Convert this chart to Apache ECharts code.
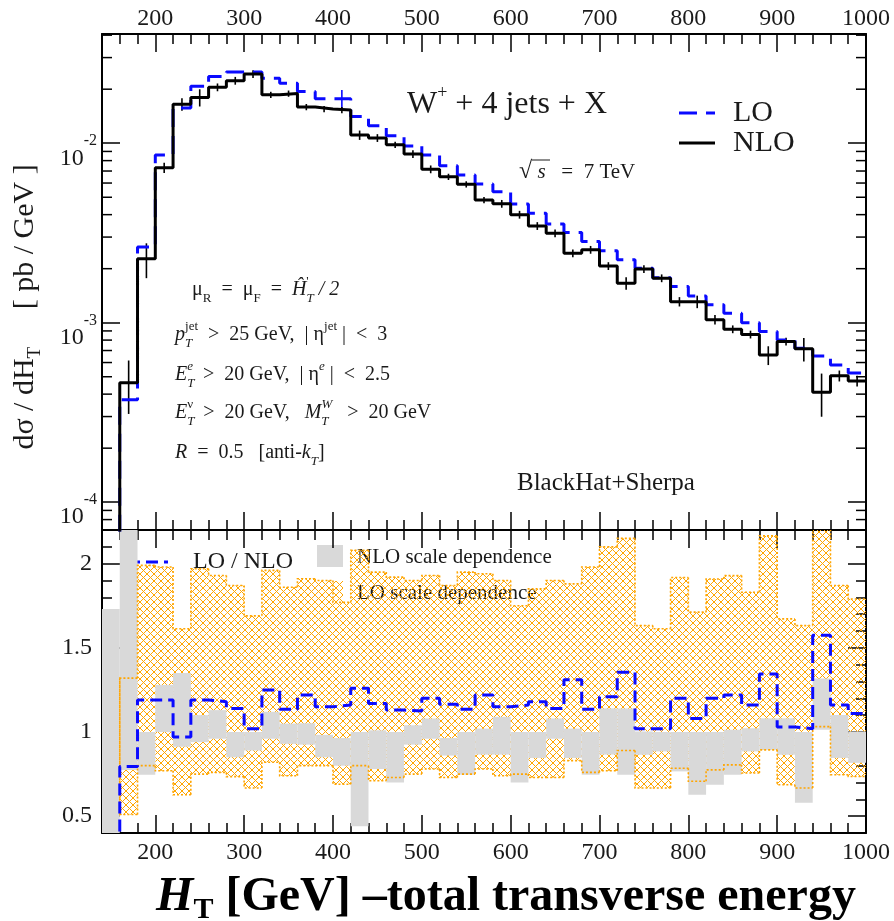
<!DOCTYPE html>
<html>
<head>
<meta charset="utf-8">
<script src="https://cdn.jsdelivr.net/npm/echarts@6/dist/echarts.min.js"></script>
<style>
  html, body { margin: 0; padding: 0; background: #fff; }
  #chart { width: 894px; height: 921px; }
</style>
</head>
<body>
<div id="chart"></div>
<script>
// bins: lower edges, 20 GeV wide
const binLow = [140, 160, 180, 200, 220, 240, 260, 280, 300, 320, 340, 360, 380, 400, 420, 440, 460, 480, 500, 520, 540,
  560, 580, 600, 620, 640, 660, 680, 700, 720, 740, 760, 780, 800, 820, 840, 860, 880, 900, 920, 940, 960, 980]
const binWidth = 20

// d sigma / d H_T [pb/GeV]
const nloValues = [4e-5, 4.63e-4, 2.27e-3, 7.31e-3, 1.65e-2, 1.80e-2, 2.05e-2, 2.23e-2, 2.43e-2, 1.86e-2, 1.89e-2,
  1.59e-2, 1.55e-2, 1.53e-2, 1.11e-2, 1.07e-2, 9.8e-3, 8.7e-3, 7.16e-3, 6.5e-3, 5.9e-3,
  4.83e-3, 4.6e-3, 4.0e-3, 3.46e-3, 3.15e-3, 2.44e-3, 2.55e-3, 2.07e-3, 1.66e-3, 1.99e-3,
  1.77e-3, 1.31e-3, 1.31e-3, 1.04e-3, 9.2e-4, 8.6e-4, 6.6e-4, 7.85e-4, 7.15e-4, 4.1e-4, 5.06e-4, 4.74e-4]
const nloRelErr = [0, 0.33, 0.22, 0.065, 0.08, 0.11, 0.05, 0.05, 0.05, 0.04, 0.04,
  0.04, 0.04, 0.04, 0.06, 0.05, 0.04, 0.05, 0.05, 0.04, 0.04,
  0.04, 0.05, 0.05, 0.05, 0.05, 0.05, 0.05, 0.05, 0.08, 0.05,
  0.05, 0.06, 0.08, 0.06, 0.05, 0.05, 0.12, 0.05, 0.15, 0.27, 0.07, 0.07]
const loValues = [3e-5, 3.72e-4, 2.64e-3, 8.6e-3, 1.57e-2, 2.08e-2, 2.35e-2, 2.49e-2, 2.49e-2, 2.30e-2, 2.16e-2,
  1.94e-2, 1.77e-2, 1.77e-2, 1.41e-2, 1.25e-2, 1.10e-2, 9.66e-3, 8.6e-3, 7.48e-3, 6.66e-3,
  5.93e-3, 5.37e-3, 4.59e-3, 4.07e-3, 3.55e-3, 3.18e-3, 2.83e-3, 2.52e-3, 2.24e-3, 2.01e-3,
  1.78e-3, 1.59e-3, 1.41e-3, 1.26e-3, 1.13e-3, 1.0e-3, 8.92e-4, 8.01e-4, 7.21e-4, 6.53e-4, 5.82e-4, 5.24e-4]
const loRelErr = [0, 0, 0, 0, 0, 0, 0, 0, 0, 0, 0,
  0, 0, 0.12, 0, 0, 0, 0, 0, 0, 0,
  0, 0, 0, 0, 0, 0, 0, 0, 0, 0,
  0, 0, 0, 0, 0, 0, 0, 0, 0, 0, 0, 0]

// lower panel: LO / NLO and scale bands
const ratioValues = [0.3, 0.795, 1.19, 1.19, 0.97, 1.19, 1.18, 1.14, 1.02, 1.25, 1.135,
  1.22, 1.15, 1.16, 1.26, 1.17, 1.13, 1.125, 1.20, 1.165, 1.135,
  1.22, 1.15, 1.16, 1.18, 1.14, 1.31, 1.135, 1.21, 1.355, 1.02,
  1.02, 1.20, 1.08, 1.20, 1.22, 1.16, 1.345, 1.03, 1.02, 1.575, 1.16, 1.11]
const loBandLow = [null, 0.51, 0.80, 0.77, 0.627, 0.75, 0.76, 0.735, 0.667, 0.82, 0.74,
  0.80, 0.80, 0.69, 0.80, 0.71, 0.73, 0.75, 0.78, 0.73, 0.75,
  0.78, 0.74, 0.75, 0.73, 0.73, 0.83, 0.76, 0.77, 0.89, 0.667,
  0.667, 0.785, 0.707, 0.775, 0.805, 0.756, 0.894, 0.687, 0.667, 1.032, 0.746, 0.736]
const loBandHigh = [null, 1.32, 1.99, 1.98, 1.613, 1.97, 1.93, 1.87, 1.69, 1.96, 1.86,
  1.91, 1.90, 1.77, 2.08, 1.95, 1.92, 1.90, 1.93, 1.87, 1.95,
  1.94, 1.90, 1.75, 1.85, 1.90, 1.88, 1.98, 2.10, 2.15, 1.632,
  1.613, 1.918, 1.712, 1.909, 1.929, 1.83, 2.165, 1.672, 1.632, 2.3, 1.87, 1.79]
const nloBandLow = [0.3, 0.775, 0.746, 1.0, 0.913, 0.94, 0.96, 0.85, 0.89, 0.96, 0.93,
  0.925, 0.85, 0.80, 0.44, 0.78, 0.70, 0.925, 0.96, 0.86, 0.746,
  0.866, 0.866, 0.70, 0.846, 0.96, 0.846, 0.746, 0.866, 0.746, 0.865,
  0.885, 0.766, 0.627, 0.687, 0.746, 0.885, 0.894, 0.865, 0.58, 1.013, 0.846, 0.817]
const nloBandHigh = [1.73, 2.3, 1.0, 1.28, 1.35, 1.10, 1.13, 1.0, 1.0, 1.12, 1.05,
  1.052, 0.983, 0.964, 1.0, 1.01, 1.0, 1.04, 1.08, 0.964, 1.0,
  1.02, 1.09, 1.0, 1.0, 1.08, 1.02, 1.0, 1.14, 1.14, 1.003,
  1.0, 1.0, 1.0, 1.0, 1.013, 1.022, 1.081, 1.081, 1.0, 1.318, 1.101, 1.003]

const xMin = 140
const xMax = 1000
const topMin = 7.0e-5
const topMax = 0.0406
const ratioMin = 0.4
const ratioMax = 2.2

const SERIF = 'Liberation Serif'
const INK = '#1a1a1a'
const BLUE = '#0a0aff'
const ORANGE = '#ffa500'
const GREY = '#d9d9d9'

const hatchCanvas = (() => {
  const c = document.createElement('canvas')
  c.width = 14
  c.height = 14
  const g = c.getContext('2d')
  g.strokeStyle = ORANGE
  g.lineWidth = 1
  g.beginPath()
  for (let k = -14; k <= 14; k += 7) {
    g.moveTo(k, 0); g.lineTo(k + 14, 14)
    g.moveTo(k, 14); g.lineTo(k + 14, 0)
  }
  g.stroke()
  return c
})()
const hatchFill = { image: hatchCanvas, repeat: 'repeat' }

const stepData = vals => binLow.map((x, i) => [x, vals[i]])
  .concat([[binLow[binLow.length - 1] + binWidth, vals[vals.length - 1]]])

const frame = { show: true, onZero: false, lineStyle: { color: '#000', width: 2 } }
const tick = { show: true, inside: true, length: 18, lineStyle: { color: '#000', width: 1.5 } }
const minor = { show: true, splitNumber: 5, length: 10, lineStyle: { color: '#000', width: 1.5 } }

const xAxisOf = (gridIndex, position, labels, margin) => ({
  type: 'value', gridIndex, position, min: xMin, max: xMax, splitNumber: 8,
  axisLine: frame, axisTick: tick, minorTick: minor,
  splitLine: { show: false }, minorSplitLine: { show: false },
  axisLabel: {
    show: labels, showMinLabel: false, fontFamily: SERIF, fontSize: 24, color: INK, margin,
    formatter: v => String(v)
  }
})

const logLabel = v => {
  const e = Math.log10(v)
  const r = Math.round(e)
  if (Math.abs(e - r) > 1e-6) return ''
  return '{b|10}{s|' + r + '}'
}

const topYAxisOf = (position, labels) => ({
  type: 'log', gridIndex: 0, position, min: topMin, max: topMax, logBase: 10,
  axisLine: frame, axisTick: tick, splitLine: { show: false },
  axisLabel: {
    show: labels, showMinLabel: false, showMaxLabel: false, margin: 5,
    formatter: logLabel, padding: [30, 0, 0, 0],
    rich: {
      b: { fontFamily: SERIF, fontSize: 24, color: INK, lineHeight: 50 },
      s: { fontFamily: SERIF, fontSize: 16, color: INK, lineHeight: 16, verticalAlign: 'top' }
    }
  }
})

const ratioYAxisOf = (position, labels) => ({
  type: 'value', gridIndex: 1, position, min: ratioMin, max: ratioMax, splitNumber: 4,
  axisLine: frame, axisTick: tick, minorTick: minor,
  splitLine: { show: false }, minorSplitLine: { show: false },
  axisLabel: { show: labels, showMinLabel: false, showMaxLabel: false, fontFamily: SERIF, fontSize: 24, color: INK, margin: 10 }
})

// log minor ticks (2..9 x 10^n)
const logMinorTicks = []
for (let e = -5; e <= -1; e++) {
  for (let m = 2; m <= 9; m++) {
    const v = m * Math.pow(10, e)
    if (v > topMin && v < topMax) logMinorTicks.push([xMin, v])
  }
}

const bandSeries = (lows, highs, fill) => ({
  type: 'custom', xAxisIndex: 3, yAxisIndex: 2, silent: true,
  data: binLow.map((x, i) => [x, x + binWidth, lows[i], highs[i]]).filter(d => d[2] != null),
  renderItem(params, api) {
    const p0 = api.coord([api.value(0), api.value(3)])
    const p1 = api.coord([api.value(1), api.value(2)])
    const cs = params.coordSys
    const rect = echarts.graphic.clipRectByRect(
      { x: p0[0], y: p0[1], width: p1[0] - p0[0], height: p1[1] - p0[1] },
      { x: cs.x, y: cs.y, width: cs.width, height: cs.height })
    if (!rect) return null
    return { type: 'rect', shape: rect, style: { fill } }
  }
})

const outlineData = []
binLow.forEach((x, i) => {
  if (loBandLow[i] == null) return
  const prev = outlineData.length ? outlineData[outlineData.length - 1] : null
  outlineData.push([x, x + binWidth, loBandLow[i], loBandHigh[i], prev ? prev[2] : loBandHigh[i], prev ? prev[3] : loBandLow[i]])
})

const errorBarSeries = (vals, errs, color) => ({
  type: 'custom', xAxisIndex: 0, yAxisIndex: 0, silent: true, clip: true,
  data: binLow.map((x, i) => [x + binWidth / 2, vals[i] * (1 - errs[i]), vals[i] * (1 + errs[i])]).filter((d, i) => errs[i] > 0),
  renderItem(params, api) {
    const a = api.coord([api.value(0), api.value(1)])
    const b = api.coord([api.value(0), api.value(2)])
    return { type: 'line', shape: { x1: a[0], y1: a[1], x2: b[0], y2: b[1] }, style: { stroke: color, lineWidth: 1.6 } }
  }
})

const textStyle = (size, extra) => Object.assign({ fontFamily: SERIF, fontSize: size, fill: INK }, extra || {})
const cutRich = {
  n: textStyle(20, { lineHeight: 30 }),
  i: textStyle(20, { lineHeight: 30, fontStyle: 'italic' }),
  sb: textStyle(13, { lineHeight: 12, verticalAlign: 'bottom' }),
  sbi: textStyle(13, { lineHeight: 12, verticalAlign: 'bottom', fontStyle: 'italic' }),
  sb0: textStyle(13, { lineHeight: 12, verticalAlign: 'bottom', fontStyle: 'italic', width: 0.1 }),
  sp: textStyle(13, { lineHeight: 12, verticalAlign: 'top' }),
  spi: textStyle(13, { lineHeight: 12, verticalAlign: 'top', fontStyle: 'italic' }),
  sp0: textStyle(13, { lineHeight: 12, verticalAlign: 'top', width: 0.1 })
}
const cutText = (x, y, text) => ({
  type: 'text', x, y, silent: true,
  style: { text, rich: cutRich, textVerticalAlign: 'middle', textAlign: 'left' }
})

const chart = echarts.init(document.getElementById('chart'), null, { renderer: 'canvas' })

chart.setOption({
  animation: false,
  backgroundColor: '#fff',
  grid: [
    { left: 102, top: 34, width: 764, height: 496 },
    { left: 102, top: 530, width: 764, height: 303 }
  ],
  xAxis: [
    xAxisOf(0, 'bottom', false, 8),
    xAxisOf(0, 'top', true, 3),
    xAxisOf(1, 'top', false, 8),
    xAxisOf(1, 'bottom', true, 8)
  ],
  yAxis: [
    topYAxisOf('left', true),
    topYAxisOf('right', false),
    ratioYAxisOf('left', true),
    ratioYAxisOf('right', false)
  ],
  series: [
    {
      type: 'custom', xAxisIndex: 0, yAxisIndex: 0, silent: true,
      data: logMinorTicks,
      renderItem(params, api) {
        const cs = params.coordSys
        const y = api.coord([api.value(0), api.value(1)])[1]
        const st = { stroke: '#000', lineWidth: 1.5 }
        return {
          type: 'group', children: [
            { type: 'line', shape: { x1: cs.x, y1: y, x2: cs.x + 10, y2: y }, style: st },
            { type: 'line', shape: { x1: cs.x + cs.width - 10, y1: y, x2: cs.x + cs.width, y2: y }, style: st }
          ]
        }
      }
    },
    {
      name: 'LO', type: 'line', xAxisIndex: 0, yAxisIndex: 0, step: 'end', symbol: 'none', clip: true,
      data: stepData(loValues), lineStyle: { color: BLUE, width: 3, type: [18, 9] }
    },
    errorBarSeries(loValues, loRelErr, BLUE),
    {
      name: 'NLO', type: 'line', xAxisIndex: 0, yAxisIndex: 0, step: 'end', symbol: 'none', clip: true,
      data: stepData(nloValues), lineStyle: { color: '#000', width: 3 }
    },
    errorBarSeries(nloValues, nloRelErr, '#000'),
    bandSeries(loBandLow, loBandHigh, hatchFill),
    bandSeries(nloBandLow, nloBandHigh, GREY),
    {
      type: 'custom', xAxisIndex: 3, yAxisIndex: 2, silent: true, clip: true,
      data: outlineData,
      renderItem(params, api) {
        const d = outlineData[params.dataIndex]
        const st = { stroke: ORANGE, lineWidth: 1.6, lineDash: [2, 2], fill: null }
        const c = (x, y) => api.coord([x, y])
        return {
          type: 'group', children: [
            { type: 'polyline', shape: { points: [c(d[0], d[5]), c(d[0], d[3]), c(d[1], d[3])] }, style: st },
            { type: 'polyline', shape: { points: [c(d[0], d[4]), c(d[0], d[2]), c(d[1], d[2])] }, style: st }
          ]
        }
      }
    },
    {
      name: 'LO / NLO', type: 'line', xAxisIndex: 3, yAxisIndex: 2, step: 'end', symbol: 'none', clip: true,
      data: stepData(ratioValues), lineStyle: { color: BLUE, width: 3, type: [12, 6] }
    }
  ],
  graphic: [
    {
      type: 'text', x: 407, y: 105, silent: true,
      style: {
        text: '{n|W}{sp|+}{n| + 4 jets + X}', textVerticalAlign: 'middle',
        rich: {
          n: textStyle(32, { lineHeight: 42 }),
          sp: textStyle(18, { lineHeight: 18, verticalAlign: 'top' })
        }
      }
    },
    {
      type: 'text', x: 519, y: 172, silent: true,
      style: {
        text: '{r|√}{i| s}{n|   =  7 TeV}', textVerticalAlign: 'middle',
        rich: {
          r: textStyle(24),
          n: textStyle(21),
          i: textStyle(21, { fontStyle: 'italic' })
        }
      }
    },
    { type: 'line', silent: true, shape: { x1: 532, y1: 160, x2: 550, y2: 160 }, style: { stroke: INK, lineWidth: 1 } },
    { type: 'line', silent: true, shape: { x1: 679, y1: 113, x2: 715, y2: 113 }, style: { stroke: BLUE, lineWidth: 3, lineDash: [18, 9] } },
    { type: 'line', silent: true, shape: { x1: 679, y1: 143, x2: 715, y2: 143 }, style: { stroke: '#000', lineWidth: 3 } },
    { type: 'text', x: 733, y: 113, silent: true, style: Object.assign(textStyle(30), { text: 'LO', textVerticalAlign: 'middle' }) },
    { type: 'text', x: 733, y: 143, silent: true, style: Object.assign(textStyle(30), { text: 'NLO', textVerticalAlign: 'middle' }) },
    cutText(192, 290, '{n|μ}{sb|R}{n|  =  μ}{sb|F}{n|  =  }{i|Ĥ}{sp0|\'}{sbi|T}{i| / 2}'),
    cutText(175, 335, '{i|p}{sb0|T}{sp|jet}{n|  >  25 GeV,  | η}{sp|jet}{n| |  <  3}'),
    cutText(175, 375, '{i|E}{sb0|T}{spi|e}{n|  >  20 GeV,  | η}{spi|e}{n| |  <  2.5}'),
    cutText(175, 413, '{i|E}{sb0|T}{sp|ν}{n|  >  20 GeV,   }{i|M}{sb0|T}{spi|W}{n|   >  20 GeV}'),
    cutText(175, 453, '{i|R}{n|  =  0.5   [anti-}{i|k}{sbi|T}{n|]}'),
    { type: 'text', x: 517, y: 483, silent: true, style: Object.assign(textStyle(25), { text: 'BlackHat+Sherpa', textVerticalAlign: 'middle' }) },
    {
      type: 'text', x: 25, y: 307, rotation: Math.PI / 2, silent: true,
      style: {
        text: '{n|dσ / dH}{sb|T}{n|     [ pb / GeV ]}', textAlign: 'center', textVerticalAlign: 'middle',
        rich: {
          n: textStyle(30, { lineHeight: 40 }),
          sb: textStyle(19, { lineHeight: 16, verticalAlign: 'bottom' })
        }
      }
    },
    // lower legend
    { type: 'line', silent: true, shape: { x1: 128, y1: 562, x2: 168, y2: 562 }, style: { stroke: BLUE, lineWidth: 3, lineDash: [12, 6] } },
    { type: 'text', x: 193, y: 562, silent: true, style: Object.assign(textStyle(24), { text: 'LO / NLO', textVerticalAlign: 'middle' }) },
    { type: 'rect', silent: true, shape: { x: 317, y: 545, width: 26, height: 22 }, style: { fill: GREY } },
    { type: 'rect', silent: true, shape: { x: 317, y: 581, width: 26, height: 22 }, style: { fill: hatchFill } },
    { type: 'text', x: 357, y: 557, silent: true, style: Object.assign(textStyle(21), { text: 'NLO scale dependence', textVerticalAlign: 'middle' }) },
    { type: 'text', x: 357, y: 593, silent: true, style: Object.assign(textStyle(21), { text: 'LO scale dependence', textVerticalAlign: 'middle' }) },
    {
      type: 'text', x: 506, y: 898, silent: true,
      style: {
        text: '{hi|H}{hs|T}{hb| [GeV] –total transverse energy}', textAlign: 'center', textVerticalAlign: 'middle',
        rich: {
          hi: textStyle(48, { fontWeight: 'bold', fontStyle: 'italic', lineHeight: 54, fill: '#000' }),
          hs: textStyle(30, { fontWeight: 'bold', lineHeight: 32, verticalAlign: 'bottom', fill: '#000' }),
          hb: textStyle(48, { fontWeight: 'bold', lineHeight: 54, fill: '#000' })
        }
      }
    }
  ]
})
</script>
</body>
</html>
